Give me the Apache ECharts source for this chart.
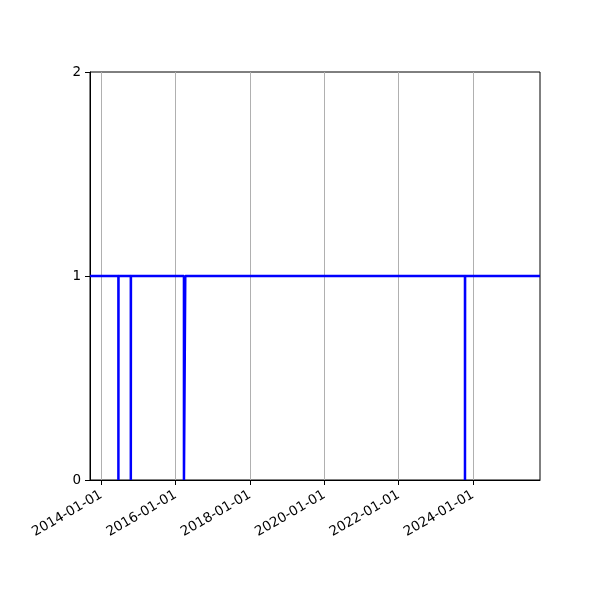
<!DOCTYPE html>
<html>
<head>
<meta charset="utf-8">
<script src="https://cdn.jsdelivr.net/npm/echarts@6/dist/echarts.min.js"></script>
<style>html,body{margin:0;padding:0;background:#fff}#c{width:600px;height:600px}</style>
</head>
<body>
<div id="c"></div>
<script>
// change points of the step series (value holds until the next date)
var dates = ['2013-09-12','2014-06-18','2014-06-19','2014-10-18','2014-10-19','2016-03-23','2016-04-05','2023-10-14','2023-10-15','2025-10-20'];
var values = [1,0,1,0,1,0,1,0,1,1];
var xTickLabels = ['2014-01-01','2016-01-01','2018-01-01','2020-01-01','2022-01-01','2024-01-01'];
var yTicks = [0,1,2];

function ms(s){ return Date.parse(s + 'T00:00:00Z'); }
function fmt(v){ var d = new Date(v); return d.toISOString().slice(0,10); }
var data = dates.map(function(d,i){ return [ms(d), values[i]]; });
var xTickVals = xTickLabels.map(ms);
var font = 'DejaVu Sans';
var chart = echarts.init(document.getElementById('c'));
chart.setOption({
  animation: false,
  grid: {left: 90, right: 60, top: 72, bottom: 120, show: true, borderColor: '#000', borderWidth: 1, backgroundColor: 'transparent'},
  xAxis: {
    type: 'value',
    min: ms(dates[0]),
    max: ms(dates[dates.length-1]),
    axisLine: {lineStyle: {color: '#000', width: 1}},
    axisTick: {show: true, length: 5, lineStyle: {color: '#000'}, customValues: xTickVals},
    axisLabel: {customValues: xTickVals, rotate: 30, color: '#000', fontFamily: font, fontSize: 13.5, margin: 14,
      formatter: function(v){ return fmt(v); }},
    splitLine: {show: true, lineStyle: {color: '#b0b0b0', width: 1}}
  },
  yAxis: {
    type: 'value',
    min: yTicks[0], max: yTicks[yTicks.length-1], interval: 1,
    axisLine: {show: true, lineStyle: {color: '#000', width: 1}},
    axisTick: {show: true, length: 5, lineStyle: {color: '#000'}},
    axisLabel: {color: '#000', fontFamily: font, fontSize: 13.5, margin: 9},
    splitLine: {show: false}
  },
  series: [{
    type: 'line',
    step: 'end',
    data: data,
    showSymbol: false,
    lineStyle: {color: '#0000ff', width: 2.5},
    itemStyle: {color: '#0000ff'}
  }]
});
</script>
</body>
</html>
